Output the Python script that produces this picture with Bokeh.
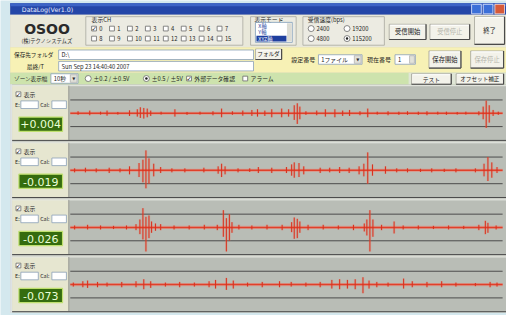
from bokeh.plotting import figure
from bokeh.models import Range1d
from bokeh.core.properties import value
from bokeh.embed import file_html
from bokeh.resources import INLINE

# ---------------- data ----------------
window_title = "DataLog(Ver1.0)"
channel_labels = ["0", "1", "2", "3", "4", "5", "6", "7",
                  "8", "9", "10", "11", "12", "13", "14", "15"]
baud_rates = ["2400", "19200", "4800", "115200"]
range_options = ["±0.2 / ±0.5V", "±0.5 / ±5V"]
panel_names = ["表示", "表示", "表示", "表示"]
panel_values = ["+0.004", "-0.019", "-0.026", "-0.073"]
folder_path = "D:\\"
last_time = "Sun Sep 23 14:40:40 2007"
zone_width = "10秒"

time_window = [0.0, 10.0]      # seconds shown in each trace
guide_levels = [-1.0, 1.0]     # dark reference lines of each trace

ch1_t = [0.18, 0.45, 0.70, 0.85, 1.10, 1.37, 1.55, 1.62, 1.70, 1.78, 1.86, 2.10, 2.42, 2.70, 3.00,
         3.30, 3.50, 3.75, 3.99, 4.20, 4.33, 4.50, 4.66, 4.89, 5.05, 5.18, 5.25, 5.31, 5.45, 5.70,
         5.90, 6.12, 6.30, 6.46, 6.70, 6.88, 7.10, 7.35, 7.60, 7.80, 8.05, 8.25, 8.50, 8.70, 8.95,
         9.15, 9.45, 9.55, 9.62, 9.69, 9.78, 9.90]
ch1_hi = [0.15, 0.20, 0.12, 0.20, 0.10, 0.22, 0.30, 0.45, 0.40, 0.35, 0.20, 0.12, 0.30, 0.10, 0.12,
          0.15, 0.35, 0.15, 0.20, 0.25, 0.30, 0.20, 0.30, 0.35, 0.30, 0.60, 0.75, 0.50, 0.15, 0.20,
          0.30, 0.30, 0.20, 0.25, 0.15, 0.35, 0.12, 0.15, 0.12, 0.15, 0.12, 0.15, 0.12, 0.12, 0.10,
          0.12, 0.15, 0.50, 0.95, 0.60, 0.25, 0.12]
ch1_lo = [-0.12, -0.15, -0.10, -0.18, -0.10, -0.20, -0.25, -0.35, -0.40, -0.30, -0.20, -0.10, -0.25, -0.12, -0.10,
          -0.15, -0.30, -0.12, -0.18, -0.20, -0.25, -0.20, -0.30, -0.30, -0.25, -0.50, -0.80, -0.45, -0.12, -0.15,
          -0.25, -0.30, -0.20, -0.20, -0.15, -0.30, -0.10, -0.15, -0.12, -0.12, -0.12, -0.15, -0.10, -0.12, -0.10,
          -0.10, -0.15, -0.45, -1.10, -0.70, -0.20, -0.12]

ch2_t = [0.10, 0.35, 0.60, 0.90, 1.15, 1.37, 1.59, 1.68, 1.75, 1.82, 1.93, 2.09, 2.35, 2.65, 3.09,
         3.42, 3.50, 3.58, 3.88, 4.15, 4.35, 4.66, 5.00, 5.12, 5.18, 5.29, 5.40, 5.78, 6.00, 6.23,
         6.45, 6.68, 6.79, 6.88, 6.99, 7.29, 7.55, 7.80, 8.10, 8.36, 8.65, 8.92, 9.37, 9.57, 9.66,
         9.75, 9.87]
ch2_hi = [0.15, 0.20, 0.15, 0.20, 0.15, 0.30, 0.55, 0.80, 1.50, 0.90, 0.50, 0.25, 0.15, 0.15, 0.20,
          0.30, 0.50, 0.30, 0.15, 0.15, 0.25, 0.20, 0.25, 0.45, 0.60, 0.55, 0.30, 0.20, 0.20, 0.25,
          0.20, 0.30, 0.50, 1.35, 0.45, 0.30, 0.15, 0.15, 0.12, 0.15, 0.12, 0.15, 0.15, 0.50, 1.00,
          0.60, 0.25]
ch2_lo = [-0.15, -0.15, -0.15, -0.20, -0.15, -0.30, -0.50, -0.90, -1.35, -1.00, -0.45, -0.20, -0.15, -0.15, -0.15,
          -0.25, -0.50, -0.30, -0.15, -0.12, -0.20, -0.20, -0.20, -0.40, -0.55, -0.50, -0.30, -0.20, -0.15, -0.20,
          -0.20, -0.30, -0.45, -1.00, -0.40, -0.25, -0.15, -0.15, -0.12, -0.15, -0.12, -0.15, -0.15, -0.45, -0.80,
          -0.55, -0.20]

ch3_t = [0.10, 0.40, 0.70, 1.00, 1.30, 1.52, 1.61, 1.68, 1.75, 1.82, 1.88, 1.97, 2.09, 2.40, 2.75,
         3.10, 3.40, 3.54, 3.61, 3.68, 3.74, 3.90, 4.20, 4.55, 4.90, 5.12, 5.18, 5.25, 5.31, 5.50,
         5.85, 6.20, 6.55, 6.80, 6.86, 6.93, 7.00, 7.20, 7.49, 7.70, 8.05, 8.40, 8.75, 9.10, 9.45,
         9.60, 9.66, 9.85]
ch3_hi = [0.15, 0.20, 0.15, 0.12, 0.15, 0.25, 0.60, 1.45, 0.80, 0.90, 0.45, 0.30, 0.25, 0.15, 0.15,
          0.20, 0.20, 1.30, 0.70, 1.00, 0.40, 0.20, 0.15, 0.20, 0.20, 0.40, 0.75, 0.65, 0.45, 0.20,
          0.20, 0.15, 0.20, 0.30, 0.60, 1.30, 0.60, 0.20, 0.45, 0.15, 0.15, 0.12, 0.15, 0.12, 0.20,
          0.50, 0.35, 0.15]
ch3_lo = [-0.15, -0.15, -0.15, -0.12, -0.15, -0.20, -0.50, -0.90, -1.80, -0.80, -0.40, -0.25, -0.20, -0.15, -0.15,
          -0.15, -0.20, -0.70, -1.80, -1.00, -0.40, -0.15, -0.15, -0.15, -0.20, -0.35, -0.85, -0.80, -0.40, -0.20,
          -0.15, -0.15, -0.20, -0.30, -0.60, -1.80, -0.70, -0.20, -0.45, -0.15, -0.15, -0.12, -0.15, -0.12, -0.20,
          -0.50, -0.40, -0.15]

ch4_t = [0.07, 0.29, 0.40, 0.63, 0.85, 1.19, 1.52, 1.70, 1.86, 2.20, 2.53, 2.87, 3.21, 3.36, 3.61,
         3.77, 4.10, 4.44, 4.84, 5.11, 5.45, 5.78, 6.05, 6.23, 6.41, 6.59, 6.77, 6.91, 7.09, 7.35,
         7.71, 7.91, 8.25, 8.59, 8.92, 9.37, 9.71, 9.87]
ch4_hi = [0.15, 0.25, 0.30, 0.20, 0.15, 0.20, 0.25, 0.40, 0.25, 0.15, 0.20, 0.15, 0.25, 0.35, 0.50,
          0.30, 0.15, 0.20, 0.25, 0.20, 0.15, 0.20, 0.35, 0.40, 0.35, 0.40, 0.55, 0.30, 0.20, 0.15,
          0.45, 0.25, 0.20, 0.25, 0.15, 0.12, 0.20, 0.15]
ch4_lo = [-0.15, -0.20, -0.25, -0.20, -0.15, -0.20, -0.20, -0.35, -0.25, -0.15, -0.20, -0.15, -0.20, -0.30, -0.40,
          -0.30, -0.15, -0.20, -0.20, -0.15, -0.15, -0.20, -0.30, -0.35, -0.30, -0.35, -0.65, -0.30, -0.20, -0.15,
          -0.30, -0.20, -0.20, -0.20, -0.15, -0.12, -0.20, -0.15]

channels = [(ch1_t, ch1_hi, ch1_lo), (ch2_t, ch2_hi, ch2_lo),
            (ch3_t, ch3_hi, ch3_lo), (ch4_t, ch4_hi, ch4_lo)]

# ---------------- figure: the whole 522x331 screen, scaled into the frame ----------------
W, H = 506, 315
X0, X1, Y0, Y1 = 0, 522, 0, 331
JP = "Noto Sans CJK JP"

p = figure(width=W, height=H, output_backend="svg", toolbar_location=None,
           x_range=Range1d(X0, X1), y_range=Range1d(Y1, Y0), min_border=0)
p.axis.visible = False
p.grid.visible = False
p.outline_line_color = None
p.background_fill_color = "#d4e8ee"
p.border_fill_color = "#d4e8ee"

# trace scale: time -> horizontal, amplitude -> vertical (1 unit = guide line)
T_LEFT, T_RIGHT = 72, 518
PX_PER_S = (T_RIGHT - T_LEFT) / (time_window[1] - time_window[0])
p.extra_x_ranges = {"time": Range1d(time_window[0] - (T_LEFT - X0) / PX_PER_S,
                                    time_window[0] + (X1 - T_LEFT) / PX_PER_S)}
UNIT = 14.0
panel_tops = [88.5 + 60 * k for k in range(4)]
extra_y = {}
for k, top in enumerate(panel_tops):
    base = top + 30
    extra_y[f"ch{k}"] = Range1d(-(Y1 - base) / UNIT, (base - Y0) / UNIT)
p.extra_y_ranges = extra_y


def quad(x0, y0, x1, y1, fill, line=None, lw=1.0):
    p.quad(left=[x0], right=[x1], top=[y0], bottom=[y1], fill_color=fill,
           line_color=line, line_width=lw)


def seg(x0, y0, x1, y1, color, lw=1.0):
    p.segment(x0=[x0], y0=[y0], x1=[x1], y1=[y1], line_color=color, line_width=lw)


def txt(x, y, s, size=6.3, color="#1e1e1e", align="left", bold=False, font=JP):
    p.text(x=[x], y=[y], text=[s], text_font=value(font), text_font_size=f"{size}px",
           text_color=color, text_align=align, text_baseline="middle",
           text_font_style="bold" if bold else "normal")


def button(x0, y0, x1, y1, label, enabled=True, size=6.3):
    quad(x0, y0, x1, y1, "#f3f2ea", "#a4a49a", 0.8)
    seg(x0 + 1, y0 + 1, x1 - 1, y0 + 1, "#ffffff")
    seg(x0, y1, x1, y1, "#4a4a4a", 1.2)
    seg(x1, y0, x1, y1, "#4a4a4a", 1.2)
    txt((x0 + x1) / 2, (y0 + y1) / 2, label, size,
        "#202020" if enabled else "#b4b4aa", "center")


def field(x0, y0, x1, y1, s="", size=5.8):
    quad(x0, y0, x1, y1, "#ffffff", "#8aa0b8", 0.8)
    if s:
        txt(x0 + 3, (y0 + y1) / 2, s, size)


def checkbox(x, y, checked=False, label=None, size=5.8):
    quad(x, y - 2.5, x + 5, y + 2.5, "#ffffff", "#6a6a6a", 0.8)
    if checked:
        txt(x + 2.5, y, "✓", 6.3, "#202020", "center", font="DejaVu Sans")
    if label:
        txt(x + 8, y, label, size)


def radio(x, y, on, label, size=5.8):
    p.scatter(x=[x + 2.5], y=[y], size=6, marker="circle", fill_color="#ffffff",
              line_color="#6a6a6a", line_width=0.8)
    if on:
        p.scatter(x=[x + 2.5], y=[y], size=2.5, marker="circle", fill_color="#202020",
                  line_color=None)
    txt(x + 8, y, label, size)


def dropdown(x0, y0, x1, y1, s):
    field(x0, y0, x1, y1, s)
    quad(x1 - 8, y0 + 1, x1 - 1, y1 - 1, "#e2e2da", "#a0a0a0", 0.6)
    txt(x1 - 4.5, (y0 + y1) / 2, "▼", 4, "#303030", "center", font="DejaVu Sans")


# ---------------- window chrome ----------------
quad(10, 3, 522, 328, "#c9ccc4")
quad(10, 3, 522, 15, "#2446a8")
quad(10, 3, 522, 6, "#3d64c6")
txt(22, 9.5, window_title, 6.3, "#e4ebff", font="DejaVu Sans")
quad(486, 4, 496, 14, "#3b6fd8", "#e8eeff", 0.8)
quad(498, 4, 508, 14, "#3b6fd8", "#e8eeff", 0.8)
quad(510, 4, 520, 14, "#d65a3a", "#ffe8e0", 0.8)

# header
quad(10, 15, 522, 49, "#e9e8da")
txt(48, 30, "OSOO", 14, "#2a2a2a", "center", bold=True, font="DejaVu Sans")
txt(48, 43, "(株)テクノシステムズ", 5.3, "#303030", "center")

quad(88, 17, 250, 47, "#ecebe2", "#a8a8a0", 0.8)
txt(94, 20, "表示CH", 5.8)
for i in range(8):
    checkbox(94 + 18.5 * i, 29.5, i == 0, channel_labels[i])
    checkbox(94 + 18.5 * i, 40, False, channel_labels[8 + i])

quad(258, 17, 305, 47, "#ecebe2", "#a8a8a0", 0.8)
txt(262, 20, "表示モード", 5.8)
quad(263, 23, 301, 44, "#ffffff", "#7f9db9", 0.8)
txt(266, 27, "X軸", 5.3, "#1e3c9c")
txt(266, 33.5, "Y軸", 5.3, "#1e3c9c")
quad(264, 37, 295, 43, "#1f3f9f")
txt(266, 40, "XYZ軸", 5.3, "#ffffff")
quad(295.5, 24, 300.5, 43, "#dcdcd4")

quad(312, 17, 396, 47, "#ecebe2", "#a8a8a0", 0.8)
txt(317, 20, "受信速度(bps)", 5.8)
radio(318, 29.5, False, baud_rates[0])
radio(355, 29.5, False, baud_rates[1])
radio(318, 40, False, baud_rates[2])
radio(355, 40, True, baud_rates[3])

button(401, 25, 439, 41, "受信開始")
button(443, 25, 484, 41, "受信停止", enabled=False)
button(489, 17, 520, 46, "終了")

# folder rows (yellow)
quad(10, 49, 522, 76, "#f7f1b5")
txt(14, 57, "保存先フォルダ", 5.6)
txt(27, 69, "最終/T", 5.8)
field(60, 52, 261, 62, folder_path)
button(263, 51, 290, 62, "フォルダ", size=5.6)
field(60, 64, 261, 74, last_time)
txt(300, 62, "設定番号", 6.0)
dropdown(328, 57, 373, 67, "1ファイル")
txt(378, 62, "現在番号", 6.0)
field(407, 57, 428, 67, "1")
quad(422, 58, 427, 66, "#e2e2da", "#a0a0a0", 0.6)
button(442, 53, 475, 71, "保存開始")
button(485, 53, 519, 71, "保存停止", enabled=False)

# display options row (green)
quad(10, 76, 522, 88, "#cde3ad")
quad(421, 76, 522, 88, "#e0e6d6")
txt(14, 82, "ゾーン表示幅", 5.6)
dropdown(52, 77, 80, 87, zone_width)
radio(88, 82, False, range_options[0])
radio(148, 82, True, range_options[1])
checkbox(192, 82, True, "外部データ確認")
checkbox(250, 82, False, "アラーム")
button(424, 77, 465, 88, "テスト", size=5.8)
button(470, 77, 519, 88, "オフセット補正", size=5.6)

quad(10, 88, 12, 328, "#dde2e4")

# ---------------- channel panels ----------------
for k, top in enumerate(panel_tops):
    quad(12, top + 1, 70, top + 58, "#e6e6d0")
    quad(71, top + 1, 522, top + 58, "#b9bdb6")
    seg(12, top + 1, 522, top + 1, "#e6e8e2")
    seg(70.5, top + 1, 70.5, top + 58, "#8c8c84", 0.8)
    seg(12, top + 58.5, 522, top + 58.5, "#4a4a4a", 1.0)

    checkbox(16, top + 10, True, panel_names[k])
    txt(15, top + 21, "E:", 5.3)
    field(21, top + 17, 39, top + 25)
    txt(41, top + 21, "Cal:", 5.3)
    field(53, top + 17, 68, top + 25)

    quad(19, top + 34, 64, top + 49, "#356c0e", "#bfe06e", 1.2)
    txt(41.5, top + 41.7, panel_values[k], 11, "#eaffd6", "center", font="DejaVu Sans")

    t, hi, lo = channels[k]
    yr = f"ch{k}"
    for g in guide_levels:
        p.line(x=time_window, y=[g, g], x_range_name="time", y_range_name=yr,
               line_color="#4c4c4c", line_width=1.0)
    p.line(x=time_window, y=[0, 0], x_range_name="time", y_range_name=yr,
           line_color="#f08070", line_width=3.2, line_alpha=0.5)
    p.segment(x0=t, y0=lo, x1=t, y1=hi, x_range_name="time", y_range_name=yr,
              line_color="#f07a60", line_width=2.5, line_alpha=0.3)
    p.line(x=time_window, y=[0, 0], x_range_name="time", y_range_name=yr,
           line_color="#e0402a", line_width=1.5)
    p.segment(x0=t, y0=lo, x1=t, y1=hi, x_range_name="time", y_range_name=yr,
              line_color="#d8301e", line_width=1.0)

open("out.html", "w").write(file_html(p, INLINE))
